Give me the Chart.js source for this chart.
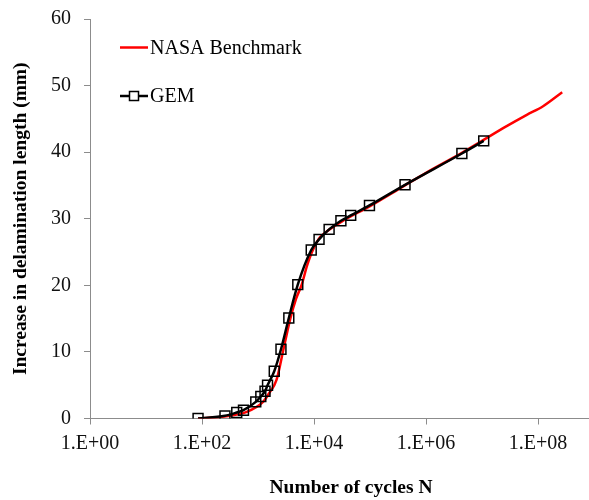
<!DOCTYPE html>
<html>
<head>
<meta charset="utf-8">
<script src="https://cdn.jsdelivr.net/npm/chart.js@4.4.1/dist/chart.umd.min.js"></script>
<style>
  html, body { margin: 0; padding: 0; background: #fff; }
  #wrap { width: 589px; height: 500px; position: relative; }
</style>
</head>
<body>
<div id="wrap"><canvas id="crackChart" width="589" height="500"></canvas></div>
<script>
// data
const nasaCycles = [85, 250, 630, 1230, 1580, 2140, 2880, 3800, 4790, 6030, 7410, 8510, 12000, 15850, 31600, 100000, 398000, 1000000, 4370000, 10000000, 27500000, 63000000, 123000000, 270000000];
const nasaLength = [0, 0.3, 1.0, 2.5, 3.8, 5.8, 10.6, 15.1, 18.0, 20.1, 22.8, 24.3, 26.9, 27.9, 29.6, 31.9, 34.9, 36.9, 39.9, 41.7, 43.9, 45.6, 46.9, 49.0];

const gemCycles = [85, 257, 417, 550, 912, 1122, 1334, 1479, 1950, 2570, 3548, 5129, 8913, 12300, 18600, 30200, 45200, 97700, 421700, 4365000, 10715000];
const gemLength = [0, 0.4, 0.9, 1.25, 2.5, 3.3, 4.1, 5.0, 7.1, 10.4, 15.1, 20.1, 25.3, 26.9, 28.4, 29.7, 30.5, 32.0, 35.1, 39.8, 41.7];

const xTicks = [1, 1e2, 1e4, 1e6, 1e8];
const xTickLabels = ['1.E+00', '1.E+02', '1.E+04', '1.E+06', '1.E+08'];
const yTicks = [0, 10, 20, 30, 40, 50, 60];

const seriesNames = ['NASA Benchmark', 'GEM'];
const xTitle = 'Number of cycles N';
const yTitle = 'Increase in delamination length (mm)';

const serif = '"Liberation Serif", "Times New Roman", serif';
const axisGray = '#8c8c8c';

function toPoints(xs, ys) {
    return xs.map((x, i) => ({ x: x, y: ys[i] }));
}

// legend inside the plot (top left) and the x title, which sits a bit right of centre
const extras = {
    id: 'extras',
    afterDraw(chart) {
        const ctx = chart.ctx;
        const items = chart.data.datasets;
        const x0 = 120, x1 = 148;
        const rows = [47.5, 96];
        ctx.save();
        ctx.font = '20px ' + serif;
        ctx.textBaseline = 'middle';
        ctx.fillStyle = '#000';
        items.forEach((ds, i) => {
            const y = rows[i];
            ctx.strokeStyle = ds.borderColor;
            ctx.lineWidth = ds.borderWidth;
            ctx.beginPath();
            ctx.moveTo(x0, y);
            ctx.lineTo(x1, y);
            ctx.stroke();
            if (ds.pointRadius > 0) {
                ctx.lineWidth = ds.pointBorderWidth;
                ctx.fillStyle = '#fff';
                ctx.fillRect(134 - 4.5, y - 4.5, 9, 9);
                ctx.strokeRect(134 - 4.5, y - 4.5, 9, 9);
                ctx.fillStyle = '#000';
            }
            ctx.fillText(ds.label, 150, y + 1);
        });

        ctx.font = 'bold 19.5px ' + serif;
        ctx.textAlign = 'center';
        ctx.fillText(xTitle, 351, 488);
        ctx.restore();
    }
};

const ctx = document.getElementById('crackChart').getContext('2d');
new Chart(ctx, {
    type: 'line',
    data: {
        datasets: [
            {
                label: seriesNames[0],
                data: toPoints(nasaCycles, nasaLength),
                borderColor: '#ff0000',
                borderWidth: 2.5,
                pointRadius: 0,
                cubicInterpolationMode: 'monotone',
                order: 2
            },
            {
                label: seriesNames[1],
                data: toPoints(gemCycles, gemLength),
                borderColor: '#000000',
                borderWidth: 2.5,
                pointStyle: 'rect',
                pointRadius: 7,
                pointBorderWidth: 1.5,
                pointBorderColor: '#000000',
                pointBackgroundColor: 'rgba(255,255,255,0)',
                cubicInterpolationMode: 'monotone',
                order: 1
            }
        ]
    },
    options: {
        responsive: false,
        animation: false,
        devicePixelRatio: 1,
        layout: { autoPadding: false, padding: { top: 19, right: 1, bottom: 0, left: 0 } },
        plugins: {
            legend: { display: false },
            tooltip: { enabled: false }
        },
        scales: {
            x: {
                type: 'logarithmic',
                min: 1,
                max: 7.8e8,
                afterBuildTicks: (scale) => {
                    scale.ticks = xTicks.map(v => ({ value: v, major: true }));
                },
                afterFit: (scale) => {
                    scale.height = 81.5;
                    scale.paddingLeft = 0;
                    scale.paddingRight = 0;
                },
                ticks: {
                    autoSkip: false,
                    maxRotation: 0,
                    padding: 7,
                    color: '#111',
                    font: { family: serif, size: 20 },
                    callback: (value) => {
                        const i = xTicks.indexOf(value);
                        return i >= 0 ? xTickLabels[i] : '';
                    }
                },
                grid: { drawOnChartArea: false, color: axisGray, tickLength: 6, lineWidth: 1 },
                border: { color: axisGray, width: 1 }
            },
            y: {
                type: 'linear',
                min: 0,
                max: 60,
                afterBuildTicks: (scale) => {
                    scale.ticks = yTicks.map(v => ({ value: v }));
                },
                afterFit: (scale) => {
                    scale.width = 90;
                    scale.paddingTop = 0;
                    scale.paddingBottom = 0;
                },
                ticks: {
                    padding: 13,
                    color: '#111',
                    font: { family: serif, size: 20 }
                },
                grid: { drawOnChartArea: false, color: axisGray, tickLength: 6, lineWidth: 1 },
                border: { color: axisGray, width: 1 },
                title: {
                    display: true,
                    text: yTitle,
                    color: '#000',
                    font: { family: serif, size: 19.5, weight: 'bold' },
                    padding: { top: 9, bottom: 0 }
                }
            }
        }
    },
    plugins: [extras]
});
</script>
</body>
</html>
